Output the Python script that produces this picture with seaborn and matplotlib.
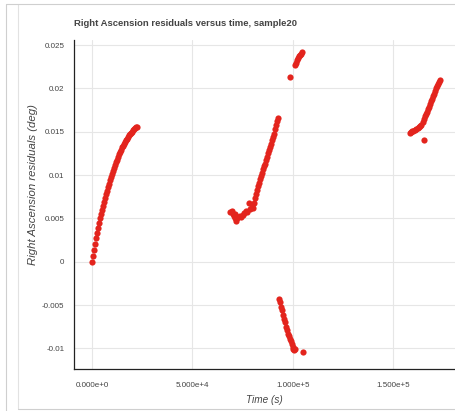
import numpy as np
import pandas as pd
import matplotlib
matplotlib.use("Agg")
import matplotlib.pyplot as plt
from matplotlib.lines import Line2D
from matplotlib.ticker import MultipleLocator, FuncFormatter
import seaborn as sns

# Residual samples (time in s, RA residual in deg), one pass per list
pass1_t = [0, 500, 1000, 1500, 2000, 2500, 3000, 3500, 4000, 4500, 5000, 5500,
           6000, 6500, 7000, 7500, 8000, 8500, 9000, 9500, 10000, 10500, 11000,
           11500, 12000, 12500, 13000, 13500, 14000, 14500, 15000, 15500, 16000,
           16500, 17000, 17500, 18000, 18500, 19000, 19500, 20000, 20500, 21000,
           21500, 22000, 22400]
pass1_v = [0.0000, 0.0007, 0.0014, 0.0020, 0.0027, 0.0033, 0.0039, 0.0045,
           0.0050, 0.0055, 0.0060, 0.0064, 0.0069, 0.0073, 0.0078, 0.0082,
           0.0086, 0.0090, 0.0094, 0.0098, 0.0101, 0.0105, 0.0108, 0.0112,
           0.0115, 0.0118, 0.0121, 0.0124, 0.0127, 0.0129, 0.0132, 0.0134,
           0.0136, 0.0138, 0.0140, 0.0142, 0.0144, 0.0146, 0.0147, 0.0149,
           0.0150, 0.0152, 0.0153, 0.0154, 0.0155, 0.0156]

pass2_t = [68800, 69500, 70000, 70500, 71000, 71300, 71700, 72200, 72800, 73500,
           74200, 75000, 75800, 76500, 77200, 78300, 78800, 79600, 80400, 80800,
           81300, 81800, 82300, 82800, 83300, 83800, 84300, 84800, 85300, 85800,
           86300, 86800, 87300, 87800, 88300, 88800, 89300, 89800, 90300, 90800,
           91300, 91800, 92200, 92500]
pass2_v = [0.0057, 0.0058, 0.0055, 0.0053, 0.0051, 0.0055, 0.0047, 0.0050,
           0.0052, 0.0053, 0.0052, 0.0054, 0.0056, 0.0058, 0.0057, 0.0068,
           0.0061, 0.0063, 0.0062, 0.0068, 0.0073, 0.0078, 0.0083, 0.0087,
           0.0091, 0.0095, 0.0099, 0.0103, 0.0107, 0.0110, 0.0113, 0.0117,
           0.0121, 0.0125, 0.0129, 0.0133, 0.0136, 0.0140, 0.0144, 0.0148,
           0.0153, 0.0158, 0.0162, 0.0166]

pass3_t = [98600, 101100, 101600, 102100, 102600, 103100, 103600, 104000, 104400]
pass3_v = [0.0213, 0.0227, 0.0230, 0.0233, 0.0235, 0.0237, 0.0239, 0.0240, 0.0242]

pass4_t = [93300, 93700, 94100, 94500, 95000, 95500, 96000, 96500, 97000, 97500,
           98000, 98500, 99000, 99500, 100000, 100300, 100600, 100900, 104900]
pass4_v = [-0.0043, -0.0047, -0.0052, -0.0056, -0.0061, -0.0066, -0.0070,
           -0.0075, -0.0079, -0.0083, -0.0086, -0.0089, -0.0092, -0.0095,
           -0.0099, -0.0101, -0.0102, -0.0101, -0.0104]

pass5_t = [158200, 158800, 159400, 160000, 160700, 161400, 162100, 162800,
           163400, 164000, 164600, 165300, 165100, 165600, 166100, 166600,
           167100, 167600, 168100, 168600, 169100, 169600, 170100, 170600,
           171100, 171600, 172100, 172600, 173100]
pass5_v = [0.0149, 0.0150, 0.0151, 0.0151, 0.0152, 0.0153, 0.0154, 0.0155,
           0.0157, 0.0158, 0.0161, 0.01405, 0.0165, 0.0168, 0.0170, 0.0173,
           0.0176, 0.0179, 0.0182, 0.0185, 0.0188, 0.0191, 0.0194, 0.0197,
           0.0200, 0.0203, 0.0205, 0.0208, 0.0210]

title_text = "Right Ascension residuals versus time, sample20"
x_label = "Time (s)"
y_label = "Right Ascension residuals (deg)"

df = pd.DataFrame({
    "time": pass1_t + pass2_t + pass3_t + pass4_t + pass5_t,
    "resid": pass1_v + pass2_v + pass3_v + pass4_v + pass5_v,
})

sns.set_theme(style="white")
plt.rcParams["font.family"] = ["Liberation Sans", "DejaVu Sans"]

W, H = 455, 411
fig = plt.figure(figsize=(W / 100, H / 100), dpi=100)
ax = fig.add_axes([74 / W, 42 / H, 381 / W, 329 / H])

TEXT = "#444444"
GRID = "#e6e6e6"

sns.scatterplot(data=df, x="time", y="resid", ax=ax, color="#e3241d",
                s=20, linewidth=0, legend=False, zorder=3)

ax.set_xlim(-8964, 180774)
ax.set_ylim(-0.01239, 0.0256)

ax.xaxis.set_major_locator(MultipleLocator(50000))
ax.xaxis.set_minor_locator(MultipleLocator(10000))
ax.yaxis.set_major_locator(MultipleLocator(0.005))
ax.yaxis.set_minor_locator(MultipleLocator(0.001))


def sci_fmt(v, pos):
    if abs(v) < 1e-9:
        return "0.000e+0"
    e = int(np.floor(np.log10(abs(v))))
    m = v / 10 ** e
    return f"{m:.3f}e+{e}" if e >= 0 else f"{m:.3f}e{e}"


def plain_fmt(v, pos):
    r = round(v, 6)
    if abs(r) < 1e-12:
        return "0"
    return f"{r:g}"


ax.xaxis.set_major_formatter(FuncFormatter(sci_fmt))
ax.yaxis.set_major_formatter(FuncFormatter(plain_fmt))

ax.grid(True, which="major", color=GRID, linewidth=0.8, zorder=0)
ax.set_axisbelow(True)

for side in ("top", "right"):
    ax.spines[side].set_visible(False)
for side in ("left", "bottom"):
    ax.spines[side].set_color("#222222")
    ax.spines[side].set_linewidth(0.9)

ax.tick_params(axis="both", which="major", direction="inout", length=6,
               width=0.8, color="#222222", labelsize=5.8, labelcolor=TEXT,
               pad=4)
ax.tick_params(axis="both", which="minor", direction="out", length=3,
               width=0.8, color="#222222")
ax.tick_params(axis="x", which="major", pad=6)

ax.set_xlabel(x_label, fontsize=7.2, style="italic", color=TEXT)
ax.set_ylabel(y_label, fontsize=8.2, style="italic", color=TEXT)
ax.xaxis.set_label_coords(0.5, -0.078)
ax.yaxis.set_label_coords(-0.094, 0.56)

fig.text(74 / W, 1 - 24 / H, title_text, fontsize=6.8, fontweight="bold",
         color=TEXT, ha="left", va="center")

# page frame lines around the figure
frame = "#cfcfcf"
fig.add_artist(Line2D([6 / W, 6 / W], [0, 1 - 4 / H], transform=fig.transFigure,
                      color=frame, lw=0.8))
fig.add_artist(Line2D([18 / W, 18 / W], [2 / H, 1 - 4 / H],
                      transform=fig.transFigure, color="#e2e2e2", lw=0.8))
fig.add_artist(Line2D([6 / W, 1], [1 - 4 / H, 1 - 4 / H],
                      transform=fig.transFigure, color=frame, lw=0.8))
fig.add_artist(Line2D([18 / W, 1], [2 / H, 2 / H],
                      transform=fig.transFigure, color=frame, lw=0.8))

fig.savefig("out.png", dpi=100)
